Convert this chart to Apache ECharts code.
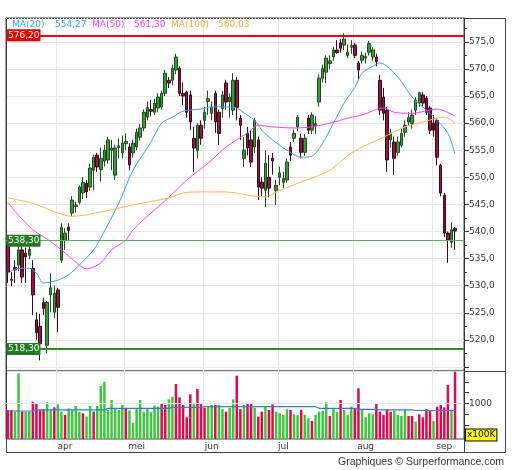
<!DOCTYPE html>
<html>
<head>
    <meta charset="utf-8">
    <script src="https://cdn.jsdelivr.net/npm/echarts@6/dist/echarts.min.js"></script>
    <style>
    html, body { margin: 0; padding: 0; background: #fff; }
    #main { width: 512px; height: 470px; }
    </style>
    <title>Graphique</title>
</head>
<body>
    <div id="main"></div>
    <script type="text/javascript">

        // daily candles: [open, close, low, high]
        var ohlc = [
            [537.5, 532.5, 530.5, 538.0], [531.2, 531.0, 529.9, 532.5], [533.4, 532.9, 530.5, 534.7],
            [533.8, 536.6, 532.7, 538.4], [536.6, 531.6, 530.5, 537.5], [536.0, 535.3, 530.5, 537.0],
            [535.6, 536.7, 534.9, 538.0], [533.2, 528.3, 524.6, 534.7], [523.7, 521.3, 520.0, 525.1],
            [522.5, 519.3, 516.2, 524.8], [526.9, 525.8, 524.6, 527.8], [519.0, 526.9, 517.5, 527.2],
            [528.3, 529.6, 525.1, 532.3], [525.1, 528.6, 524.0, 530.0], [529.2, 526.0, 521.4, 529.6],
            [534.7, 540.8, 534.2, 541.5], [538.4, 539.7, 536.6, 540.6], [540.8, 540.2, 538.4, 541.5],
            [543.4, 545.8, 542.8, 546.5], [544.6, 544.9, 543.5, 545.5], [545.4, 548.2, 545.0, 548.5],
            [547.1, 549.1, 546.0, 550.0], [548.9, 547.3, 546.2, 549.5], [548.2, 551.7, 547.5, 552.5],
            [551.3, 553.7, 547.6, 554.2], [554.1, 551.9, 551.0, 554.5], [551.4, 553.5, 549.2, 555.5],
            [553.0, 555.0, 552.0, 556.0], [553.2, 556.9, 552.5, 557.5], [555.0, 555.4, 551.3, 556.9],
            [550.4, 555.4, 549.5, 556.0], [555.5, 555.8, 553.5, 557.2], [554.5, 556.3, 553.5, 557.7],
            [556.2, 556.6, 555.0, 558.1], [555.6, 552.3, 551.3, 556.3], [554.5, 556.3, 553.6, 557.0],
            [555.6, 558.3, 555.0, 559.0], [557.4, 559.1, 556.8, 559.8], [559.1, 562.0, 558.5, 562.5],
            [561.1, 562.9, 560.5, 564.0], [562.5, 562.2, 561.2, 564.3], [562.0, 563.7, 561.5, 564.5],
            [562.8, 564.8, 562.0, 565.5], [563.0, 565.5, 562.5, 566.0], [565.5, 569.2, 565.0, 569.8],
            [567.9, 567.4, 566.5, 568.5], [567.9, 570.1, 567.0, 570.8], [569.8, 572.2, 569.0, 572.8],
            [570.1, 565.5, 565.0, 570.5], [565.5, 565.0, 563.3, 567.5], [565.7, 562.0, 561.0, 566.0],
            [565.2, 560.2, 558.7, 566.0], [557.2, 555.4, 551.0, 559.3], [555.0, 559.6, 553.5, 560.0],
            [559.6, 557.2, 556.0, 560.5], [560.5, 562.0, 559.0, 563.0], [564.0, 564.5, 561.5, 566.0],
            [561.8, 562.9, 560.5, 564.0], [565.5, 560.2, 558.2, 566.0], [562.0, 558.1, 556.0, 562.5],
            [562.7, 565.2, 561.0, 566.0], [567.4, 563.9, 562.5, 568.0], [564.0, 564.8, 561.0, 565.5],
            [562.4, 567.9, 561.5, 569.2], [567.9, 562.9, 560.5, 568.5], [560.9, 559.6, 556.9, 561.5],
            [553.5, 555.0, 551.9, 557.4], [558.1, 555.4, 554.0, 559.3], [556.9, 552.8, 551.9, 558.7],
            [555.6, 560.5, 554.5, 561.0], [556.9, 548.2, 545.8, 557.5], [549.1, 548.0, 546.5, 550.0],
            [547.6, 552.6, 544.5, 555.0], [550.0, 548.0, 546.3, 554.1], [553.5, 553.0, 550.5, 554.5],
            [547.6, 548.5, 544.9, 549.5], [550.0, 550.8, 548.5, 552.0], [549.1, 549.8, 548.0, 551.0],
            [549.5, 552.8, 549.0, 553.5], [555.6, 554.1, 553.0, 556.5], [557.2, 558.1, 556.5, 558.8],
            [559.3, 561.1, 558.5, 561.5], [557.2, 554.6, 553.5, 558.0], [554.6, 557.2, 554.0, 558.0],
            [560.9, 558.7, 558.0, 561.5], [558.7, 561.5, 558.0, 562.0], [559.5, 559.9, 558.0, 561.3],
            [563.9, 568.3, 563.0, 569.0], [568.3, 570.1, 567.5, 570.8], [569.4, 572.0, 567.4, 572.5],
            [571.0, 571.5, 570.0, 572.5], [572.2, 573.5, 571.5, 574.0], [573.5, 573.0, 572.8, 575.3],
            [574.8, 573.8, 573.0, 575.5], [574.4, 575.5, 573.5, 576.6], [572.5, 573.1, 572.0, 574.5],
            [574.0, 574.3, 572.8, 575.3], [574.4, 572.5, 572.0, 574.8], [571.1, 569.8, 567.9, 571.5],
            [571.6, 572.5, 571.0, 573.2], [572.0, 572.3, 571.0, 573.0], [573.1, 574.7, 572.5, 575.2],
            [572.2, 573.5, 571.5, 574.0], [572.2, 571.3, 570.5, 572.8], [567.9, 562.4, 561.5, 568.9],
            [564.8, 561.8, 560.5, 566.5], [562.4, 553.2, 551.0, 563.0], [556.9, 558.1, 555.5, 559.0],
            [556.5, 553.5, 550.4, 557.5], [554.6, 556.5, 554.0, 557.5], [555.9, 558.1, 555.5, 559.0],
            [558.3, 559.6, 557.5, 560.5], [560.2, 561.0, 559.5, 562.0], [559.9, 561.5, 559.0, 562.5],
            [562.4, 564.2, 561.5, 564.8], [563.7, 565.6, 563.0, 565.8], [565.2, 563.7, 563.0, 565.8],
            [564.6, 562.0, 561.5, 565.0], [562.8, 558.7, 558.0, 563.2], [560.0, 558.7, 557.5, 561.5],
            [560.5, 553.7, 552.2, 561.0], [552.2, 547.1, 546.5, 552.5], [546.7, 539.7, 539.0, 547.1],
            [539.7, 538.4, 534.2, 540.0], [538.0, 540.3, 537.0, 541.7], [540.6, 540.1, 536.6, 540.8]
        ];

        // volume in units of 100K, and whether the day closed up (1) or down (0)
        var volume = [
            850, 850, 810, 1700, 810, 810, 810, 1040, 1005, 850, 860, 1030, 850, 912, 980, 810, 733, 888,
            850, 942, 810, 773, 695, 942, 810, 942, 1405, 1505, 850, 1081, 888, 850, 965, 880, 840, 556,
            870, 1081, 800, 870, 800, 950, 930, 988, 965, 1097, 1158, 1452, 1143, 965, 680, 1213, 1005, 1336,
            990, 900, 930, 965, 965, 965, 870, 810, 900, 1097, 1644, 870, 965, 990, 990, 900,
            695, 810, 926, 850, 980, 810, 773, 735, 866, 850, 750, 730, 850, 735, 657, 595, 735, 810,
            830, 1028, 710, 870, 810, 1081, 850, 735, 926, 888, 1352, 850, 680, 773, 750, 1005, 810, 735,
            870, 810, 830, 735, 710, 850, 710, 710, 579, 750, 680, 870, 850, 595, 926, 965, 910, 1428,
            850, 1736
        ];
        var volUp = [
            0, 0, 1, 1, 0, 1, 1, 0, 0, 0, 0, 1, 1, 0, 1, 1, 0, 1,
            1, 1, 1, 0, 1, 1, 0, 1, 1, 1, 1, 1, 1, 1, 1, 0, 1, 1,
            1, 1, 1, 1, 1, 1, 1, 0, 0, 1, 1, 0, 0, 0, 0, 0, 1, 0,
            0, 0, 1, 1, 0, 1, 1, 0, 1, 1, 0, 0, 1, 0, 0, 1,
            0, 0, 1, 0, 0, 1, 1, 1, 1, 0, 1, 1, 0, 1, 1, 0, 1, 1,
            1, 1, 0, 1, 1, 0, 1, 1, 1, 0, 0, 1, 1, 1, 1, 0, 0, 0,
            0, 0, 1, 1, 1, 1, 0, 0, 1, 0, 0, 0, 0, 1, 0, 0, 0, 0,
            1, 0
        ];

        // moving averages: [day index, value]
        var ma20 = [
            [0, 532.3], [3, 533.2], [6, 533.2], [8, 532.3], [10, 530.5], [12, 530.7], [14, 531.0],
            [17, 532.0], [20, 533.8], [24, 536.6], [26, 538.8], [31, 545.2], [35, 551.3], [40, 556.5],
            [43, 560.0], [46, 561.1], [49, 562.2], [54, 562.6], [57, 563.0], [61, 563.0], [64, 562.8],
            [66, 561.9], [69, 560.5], [71, 558.7], [74, 556.9], [78, 555.0], [82, 553.7], [85, 553.9],
            [88, 556.3], [91, 560.0], [94, 563.7], [97, 566.6], [99, 569.2], [102, 570.5], [104, 571.1],
            [109, 568.5], [113, 564.8], [117, 562.4], [120, 560.5], [123, 558.1], [125, 554.27]
        ];
        var ma50 = [
            [0, 545.4], [3, 543.0], [7, 540.3], [11, 538.6], [15, 536.6], [20, 533.8], [22, 533.1],
            [26, 534.2], [29, 536.6], [33, 538.4], [35, 540.3], [40, 543.4], [45, 546.3], [50, 549.5],
            [56, 552.6], [61, 555.6], [67, 558.2], [70, 559.6], [74, 559.3], [80, 559.1], [85, 559.3],
            [90, 560.0], [95, 560.9], [99, 561.5], [105, 562.8], [108, 562.0], [113, 561.8], [120, 562.6],
            [125, 561.30]
        ];
        var ma100 = [
            [0, 546.2], [7, 545.2], [14, 543.4], [18, 542.8], [26, 543.6], [35, 544.9], [45, 546.2],
            [49, 547.1], [54, 547.3], [61, 547.3], [69, 546.5], [72, 546.4], [75, 547.3], [81, 548.9],
            [90, 551.3], [96, 554.5], [105, 557.4], [111, 559.3], [116, 560.2], [122, 561.1], [125, 560.03]
        ];
        var volMa = [
            [0, 826], [7, 830], [8, 850], [27, 850], [28, 888], [45, 888], [46, 912], [54, 912],
            [55, 926], [86, 926], [87, 888], [97, 888], [98, 864], [103, 864], [104, 850], [113, 850],
            [114, 838], [125, 838]
        ];

        var levels = [576.2, 538.3, 518.3];

        var monthNames = ['apr', 'mei', 'jun', 'jul', 'aug', 'sep'];
        var monthStart = [14, 33, 55, 76, 97, 119];
        var monthLabelAt = [16, 36, 57, 77, 100, 122];

        var nSlots = 128;
        var priceMin = 514.25, priceMax = 579.4;
        var volMin = 178, volMax = 1752;

        var cats = [];
        for (var i = 0; i < nSlots; i++) cats.push(String(i));

        function fmt(v, d) { return v.toFixed(d).replace('.', ','); }
        function isMonthStart(idx) { return monthStart.indexOf(idx) >= 0; }
        function isLabel(idx) { return monthLabelAt.indexOf(idx) >= 0; }

        var volData = volume.map(function (v, k) {
            return { value: v, itemStyle: { color: volUp[k] ? '#3ec63e' : '#dc0a4e' } };
        });

        var gridLine = { show: true, interval: isMonthStart, lineStyle: { color: '#e6e6e6' } };
        var axisFont = { color: '#333', fontSize: 9, fontFamily: 'DejaVu Sans' };

        var myChart = echarts.init(document.getElementById('main'));

        var option = {
            animation: false,
            backgroundColor: '#fff',
            grid: [
                { left: 6, top: 18, width: 458, height: 353, show: true, borderColor: '#444', borderWidth: 1 },
                { left: 6, top: 371, width: 458, height: 68, show: true, borderColor: '#444', borderWidth: 1 }
            ],
            xAxis: [
                {
                    type: 'category', gridIndex: 0, data: cats,
                    axisLine: { show: false }, axisTick: { show: false }, axisLabel: { show: false },
                    splitLine: gridLine
                },
                {
                    type: 'category', gridIndex: 1, data: cats,
                    axisLine: { show: false }, axisTick: { show: false },
                    axisLabel: Object.assign({
                        interval: isLabel, margin: 3,
                        formatter: function (v) { return monthNames[monthLabelAt.indexOf(Number(v))] || ''; }
                    }, axisFont),
                    splitLine: gridLine
                }
            ],
            yAxis: [
                {
                    type: 'value', gridIndex: 0, position: 'right',
                    min: priceMin, max: priceMax, minInterval: 5, maxInterval: 5,
                    axisLine: { show: true, lineStyle: { color: '#333' } },
                    axisTick: { show: true, length: 5, lineStyle: { color: '#333' } },
                    minorTick: { show: true, splitNumber: 2, length: 3, lineStyle: { color: '#333' } },
                    axisLabel: Object.assign({
                        margin: 5,
                        formatter: function (v) {
                            return (v < priceMin + 3 || v > priceMax - 3) ? '' : fmt(v, 1);
                        }
                    }, axisFont),
                    splitLine: { show: true, lineStyle: { color: '#e6e6e6' } }
                },
                {
                    type: 'value', gridIndex: 1, position: 'right',
                    min: volMin, max: volMax, minInterval: 250, maxInterval: 250,
                    axisLine: { show: true, lineStyle: { color: '#333' } },
                    axisTick: { show: true, length: 5, lineStyle: { color: '#333' } },
                    axisLabel: Object.assign({
                        margin: 5,
                        formatter: function (v) { return v === 1000 ? '1000' : ''; }
                    }, axisFont),
                    splitLine: { show: false }
                }
            ],
            series: [
                {
                    name: 'koers', type: 'candlestick', xAxisIndex: 0, yAxisIndex: 0,
                    data: ohlc, barWidth: 3,
                    itemStyle: {
                        color: '#3b9b3b', color0: '#8c1a3e',
                        borderColor: '#1f4a1f', borderColor0: '#3a0818', borderWidth: 1
                    },
                    markLine: {
                        silent: true, symbol: 'none', label: { show: false },
                        data: [
                            { yAxis: levels[0], lineStyle: { color: '#ff0000', width: 2, type: 'solid' } },
                            { yAxis: levels[1], lineStyle: { color: '#5fae5f', width: 1, type: 'solid' } },
                            { yAxis: levels[2], lineStyle: { color: '#2e8b2e', width: 2, type: 'solid' } }
                        ]
                    }
                },
                {
                    name: 'MA(20)', type: 'line', xAxisIndex: 0, yAxisIndex: 0, data: ma20,
                    smooth: 0.3, symbol: 'none', lineStyle: { color: '#3a9ee8', width: 1 }
                },
                {
                    name: 'MA(50)', type: 'line', xAxisIndex: 0, yAxisIndex: 0, data: ma50,
                    smooth: 0.3, symbol: 'none', lineStyle: { color: '#ff3cff', width: 1 }
                },
                {
                    name: 'MA(100)', type: 'line', xAxisIndex: 0, yAxisIndex: 0, data: ma100,
                    smooth: 0.3, symbol: 'none', lineStyle: { color: '#ffb34a', width: 1 }
                },
                {
                    name: 'volume', type: 'bar', xAxisIndex: 1, yAxisIndex: 1, data: volData,
                    barWidth: '70%',
                    markLine: {
                        silent: true, symbol: 'none', label: { show: false },
                        lineStyle: { color: '#e6e6e6', width: 1, type: 'solid' },
                        data: [{ yAxis: 1000 }]
                    }
                },
                {
                    name: 'vol ma', type: 'line', xAxisIndex: 1, yAxisIndex: 1, data: volMa,
                    symbol: 'none', lineStyle: { color: '#2a7fd4', width: 1.2 }
                }
            ]
        };
        myChart.setOption(option);

        // frame, legend values and level tags
        var gfx = [
            { type: 'rect', silent: true, shape: { x: 6.5, y: 18.5, width: 499, height: 434 },
              style: { fill: 'none', stroke: '#444', lineWidth: 1 } },
            { type: 'line', silent: true, shape: { x1: 6, y1: 18.5, x2: 464, y2: 18.5 },
              style: { stroke: '#fff', lineWidth: 1, lineDash: [1, 2] } },
            { type: 'line', silent: true, shape: { x1: 464.5, y1: 439, x2: 464.5, y2: 453 },
              style: { stroke: '#444', lineWidth: 1 } },
            { type: 'line', silent: true, shape: { x1: 464, y1: 371.5, x2: 506, y2: 371.5 },
              style: { stroke: '#444', lineWidth: 1 } }
        ];

        var legendItems = [
            ['MA(20)', fmt(ma20[ma20.length - 1][1], 2), '#3a9ee8', 12, 55],
            ['MA(50)', fmt(ma50[ma50.length - 1][1], 2), '#ff3cff', 92, 134],
            ['MA(100)', fmt(ma100[ma100.length - 1][1], 2), '#ffa733', 171, 218]
        ];
        legendItems.forEach(function (it) {
            gfx.push({ type: 'text', x: it[3], y: 25, z: 50,
                style: { text: it[0], fill: it[2], font: '9px "DejaVu Sans"', verticalAlign: 'middle' } });
            gfx.push({ type: 'text', x: it[4], y: 25, z: 50,
                style: { text: it[1], fill: it[2], font: '9px "DejaVu Sans"', verticalAlign: 'middle' } });
        });

        var tagColors = ['#ee0000', '#227a22', '#227a22'];
        levels.forEach(function (lv, k) {
            var y = myChart.convertToPixel({ yAxisIndex: 0 }, lv);
            gfx.push({ type: 'text', x: 7, y: y, z: 60,
                style: { text: fmt(lv, 2), fill: '#fff', font: '9px "DejaVu Sans"', verticalAlign: 'middle',
                         backgroundColor: tagColors[k], padding: [2, 1, 1, 1] } });
        });

        gfx.push({ type: 'text', x: 466, y: 435, z: 60,
            style: { text: 'x100K', fill: '#000', font: '9px "DejaVu Sans"', verticalAlign: 'middle',
                     backgroundColor: '#ffff00', borderColor: '#000', borderWidth: 1, padding: [1, 1, 1, 1] } });

        gfx.push({ type: 'text', x: 504, y: 462, z: 60,
            style: { text: 'Graphiques \u00a9 Surperformance.com', fill: '#333', font: '10.5px "Liberation Sans"',
                     align: 'right', verticalAlign: 'middle' } });

        myChart.setOption({ graphic: gfx });

    </script>
</body>
</html>
